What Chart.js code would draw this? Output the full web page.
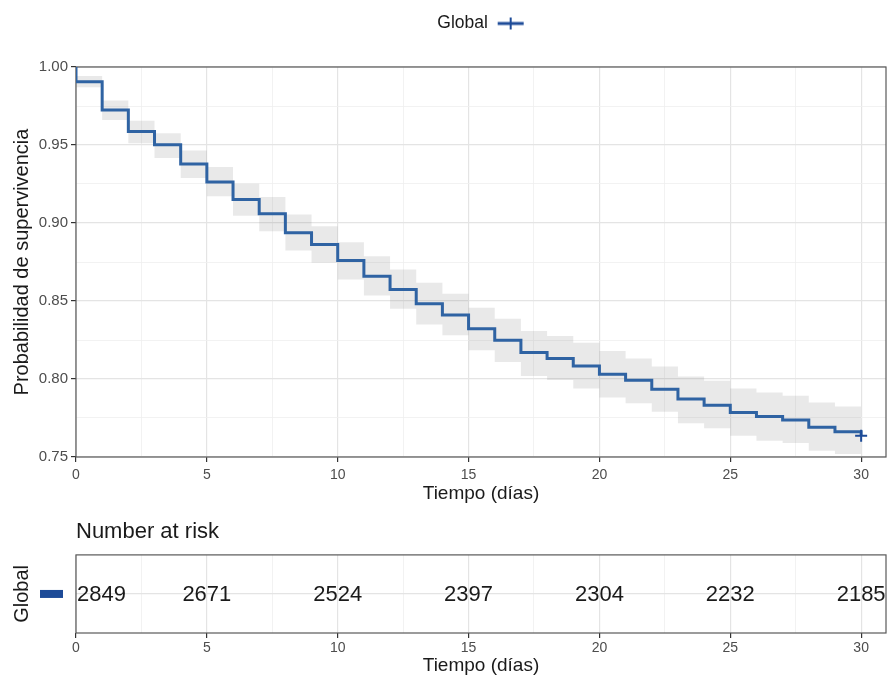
<!DOCTYPE html>
<html>
<head>
<meta charset="utf-8">
<script src="https://cdn.jsdelivr.net/npm/chart.js@4.4.0/dist/chart.umd.min.js"></script>
<style>
  body { margin: 0; background: #fff; }
  #wrap { position: relative; width: 888px; height: 677px; }
  canvas { position: absolute; left: 0; }
  #km { top: 0; }
  #risk { top: 510px; }
</style>
</head>
<body>
<div id="wrap">
  <canvas id="km" width="888" height="510"></canvas>
  <canvas id="risk" width="888" height="167"></canvas>
</div>
<script>
// curve: starts at 1 on day 0, then value after each day's drop
const curveDays = [0, 0, 1, 2, 3, 4, 5, 6, 7, 8, 9, 10, 11, 12, 13, 14, 15,
  16, 17, 18, 19, 20, 21, 22, 23, 24, 25, 26, 27, 28, 29, 30];
const surv = [1.000, 0.9906, 0.9725, 0.9586, 0.9501, 0.9378, 0.9263, 0.9150, 0.9060,
  0.8937, 0.8862, 0.8760, 0.8659, 0.8574, 0.8483, 0.8411, 0.8322, 0.8248, 0.8170,
  0.8131, 0.8084, 0.8031, 0.7992, 0.7935, 0.7871, 0.7832, 0.7786, 0.7760, 0.7737,
  0.7690, 0.7662, 0.7636];

// confidence band
const bandDays = [0, 1, 2, 3, 4, 5, 6, 7, 8, 9, 10, 11, 12, 13, 14, 15,
  16, 17, 18, 19, 20, 21, 22, 23, 24, 25, 26, 27, 28, 29, 30];
const upper = [0.9942, 0.9785, 0.9655, 0.9576, 0.9465, 0.9359, 0.9252, 0.9167, 0.9054,
  0.8979, 0.8877, 0.8787, 0.8702, 0.8617, 0.8547, 0.8457, 0.8387, 0.8308, 0.8276,
  0.8233, 0.8180, 0.8131, 0.8080, 0.8016, 0.7988, 0.7939, 0.7914, 0.7892, 0.7850,
  0.7824, 0.7800];
const lower = [0.9870, 0.9661, 0.9512, 0.9416, 0.9288, 0.9171, 0.9047, 0.8947, 0.8824,
  0.8745, 0.8638, 0.8536, 0.8451, 0.8350, 0.8280, 0.8184, 0.8109, 0.8020, 0.7994,
  0.7939, 0.7882, 0.7845, 0.7790, 0.7717, 0.7684, 0.7636, 0.7604, 0.7589, 0.7540,
  0.7519, 0.7490];

const censorDays = [30];
const censorSurv = [0.7636];

const riskDays = [0, 5, 10, 15, 20, 25, 30];
const riskCounts = [2849, 2671, 2524, 2397, 2304, 2232, 2185];

const FONT = "'Liberation Sans', Arial, sans-serif";
const BLUE = '#2f63a3';
const DARK_BLUE = '#1d4b98';
const TXT = '#1a1a1a';
const TICK_TXT = '#4d4d4d';
const X_MAX = 30.95;

Chart.defaults.font.family = FONT;

const isMajor = (v, step) => Math.abs(v / step - Math.round(v / step)) < 1e-6;

function gridOpts(step) {
  return {
    color: c => (c.tick && isMajor(c.tick.value, step)) ? '#e4e4e4' : '#efefef',
    lineWidth: c => (c.tick && isMajor(c.tick.value, step)) ? 1.2 : 0.8,
    tickColor: c => (c.tick && isMajor(c.tick.value, step)) ? '#333333' : 'rgba(0,0,0,0)',
    tickLength: 5,
    tickWidth: 1.2
  };
}

// no extra side padding from tick labels
function fixX(h) {
  return s => { s.height = h; s.paddingLeft = 0; s.paddingRight = 0; };
}

const panelBorder = {
  id: 'panelBorder',
  beforeDatasetsDraw(chart) {
    const { ctx, chartArea: a } = chart;
    ctx.save();
    ctx.strokeStyle = '#595959';
    ctx.lineWidth = 1.2;
    ctx.strokeRect(a.left, a.top, a.right - a.left, a.bottom - a.top);
    ctx.restore();
  }
};

// legend key: line with a censor cross
const legendIcon = document.createElement('canvas');
legendIcon.width = 28;
legendIcon.height = 14;
const g = legendIcon.getContext('2d');
g.strokeStyle = DARK_BLUE;
g.lineWidth = 3;
g.beginPath(); g.moveTo(1, 7); g.lineTo(27, 7); g.stroke();
g.lineWidth = 2;
g.beginPath(); g.moveTo(14, 1); g.lineTo(14, 13); g.stroke();

// centre the legend over the panel and keep it near the top, like ggplot
const placeLegend = {
  id: 'placeLegend',
  afterLayout(chart) {
    const l = chart.legend, a = chart.chartArea;
    l.left = a.left;
    l.right = a.right;
    l.width = a.right - a.left;
    l.top = 4.7;
    l.bottom = l.top + l.height;
  }
};

new Chart(document.getElementById('km'), {
  type: 'line',
  data: {
    datasets: [
      {
        label: 'censor',
        data: censorDays.map((d, i) => ({ x: d, y: censorSurv[i] })),
        showLine: false,
        pointStyle: 'cross',
        pointRadius: 6,
        pointBorderWidth: 2,
        pointBorderColor: DARK_BLUE,
        borderColor: DARK_BLUE
      },
      {
        label: 'Global',
        data: curveDays.map((d, i) => ({ x: d, y: surv[i] })),
        stepped: true,
        borderColor: BLUE,
        borderWidth: 3,
        pointRadius: 0,
        pointStyle: legendIcon,
        fill: false
      },
      {
        label: 'upper',
        data: bandDays.map((d, i) => ({ x: d, y: upper[i] })),
        stepped: true,
        borderWidth: 0,
        borderColor: 'rgba(0,0,0,0)',
        pointRadius: 0,
        fill: '+1',
        backgroundColor: 'rgba(120,120,120,0.16)'
      },
      {
        label: 'lower',
        data: bandDays.map((d, i) => ({ x: d, y: lower[i] })),
        stepped: true,
        borderWidth: 0,
        borderColor: 'rgba(0,0,0,0)',
        pointRadius: 0,
        fill: false
      }
    ]
  },
  options: {
    responsive: false,
    animation: false,
    events: [],
    layout: { autoPadding: false, padding: { top: 29.5, right: 2, left: 0, bottom: 0 } },
    plugins: {
      legend: {
        position: 'top',
        rtl: true,
        labels: {
          usePointStyle: true,
          pointStyleWidth: 28,
          boxHeight: 14,
          padding: 10,
          color: TXT,
          font: { size: 17.5 },
          filter: item => item.text === 'Global'
        }
      },
      tooltip: { enabled: false }
    },
    scales: {
      x: {
        type: 'linear',
        min: 0,
        max: X_MAX,
        afterFit: fixX(53),
        border: { display: false },
        grid: gridOpts(5),
        ticks: {
          stepSize: 2.5,
          includeBounds: false,
          autoSkip: false,
          maxRotation: 0,
          padding: 5,
          color: TICK_TXT,
          font: { size: 14 },
          callback: v => isMajor(v, 5) ? String(v) : ''
        },
        title: {
          display: true,
          text: 'Tiempo (días)',
          color: TXT,
          font: { size: 19 },
          padding: { top: 0, bottom: 5 }
        }
      },
      y: {
        min: 0.75,
        max: 1.0,
        afterFit: s => { s.width = 76; },
        border: { display: false },
        grid: gridOpts(0.05),
        ticks: {
          stepSize: 0.025,
          includeBounds: false,
          autoSkip: false,
          padding: 3,
          color: TICK_TXT,
          font: { size: 15 },
          callback: v => isMajor(v, 0.05) ? v.toFixed(2) : ''
        },
        title: {
          display: true,
          text: 'Probabilidad de supervivencia',
          color: TXT,
          font: { size: 20 },
          padding: { top: 10, bottom: 0 }
        }
      }
    }
  },
  plugins: [panelBorder, placeLegend]
});

// risk table
const riskText = {
  id: 'riskText',
  afterDatasetsDraw(chart) {
    const { ctx } = chart;
    const pts = chart.getDatasetMeta(0).data;
    ctx.save();
    ctx.font = '22px ' + FONT;
    ctx.fillStyle = TXT;
    ctx.textBaseline = 'middle';
    pts.forEach((p, i) => {
      ctx.textAlign = i === 0 ? 'left' : 'center';
      ctx.fillText(String(riskCounts[i]), i === 0 ? p.x + 1 : p.x, p.y + 1);
    });
    ctx.restore();
  }
};

const stratumKey = {
  id: 'stratumKey',
  afterDraw(chart) {
    const { ctx } = chart;
    const y = chart.scales.y.getPixelForValue(0);
    ctx.save();
    ctx.fillStyle = DARK_BLUE;
    ctx.fillRect(40, y - 4, 23, 8);
    ctx.restore();
  }
};

const titleToPanel = {
  id: 'titleToPanel',
  afterLayout(chart) {
    chart.titleBlock.left = chart.chartArea.left;
  }
};

new Chart(document.getElementById('risk'), {
  type: 'line',
  data: {
    datasets: [{
      label: 'Global',
      data: riskDays.map(d => ({ x: d, y: 0 })),
      showLine: false,
      pointRadius: 0
    }]
  },
  options: {
    responsive: false,
    animation: false,
    events: [],
    layout: { autoPadding: false, padding: { top: 0, right: 2, left: 0, bottom: 0 } },
    plugins: {
      legend: { display: false },
      tooltip: { enabled: false },
      title: {
        display: true,
        text: 'Number at risk',
        align: 'start',
        color: TXT,
        font: { size: 22, weight: 'normal' },
        padding: { top: 8.5, bottom: 10 }
      }
    },
    scales: {
      x: {
        type: 'linear',
        min: 0,
        max: X_MAX,
        afterFit: fixX(44),
        border: { display: false },
        grid: gridOpts(5),
        ticks: {
          stepSize: 2.5,
          includeBounds: false,
          autoSkip: false,
          maxRotation: 0,
          padding: 2,
          color: TICK_TXT,
          font: { size: 14 },
          callback: v => isMajor(v, 5) ? String(v) : ''
        },
        title: {
          display: true,
          text: 'Tiempo (días)',
          color: TXT,
          font: { size: 19 },
          padding: { top: 0, bottom: 0 }
        }
      },
      y: {
        min: -1,
        max: 1,
        afterFit: s => { s.width = 76; },
        border: { display: false },
        grid: {
          color: c => (c.tick && c.tick.value === 0) ? '#e4e4e4' : 'rgba(0,0,0,0)',
          lineWidth: 1.2,
          drawTicks: false
        },
        ticks: {
          stepSize: 1,
          autoSkip: false,
          padding: 14,
          callback: () => ''
        },
        title: {
          display: true,
          text: 'Global',
          color: TXT,
          font: { size: 20 },
          padding: { top: 10, bottom: 0 }
        }
      }
    }
  },
  plugins: [panelBorder, riskText, stratumKey, titleToPanel]
});
</script>
</body>
</html>
